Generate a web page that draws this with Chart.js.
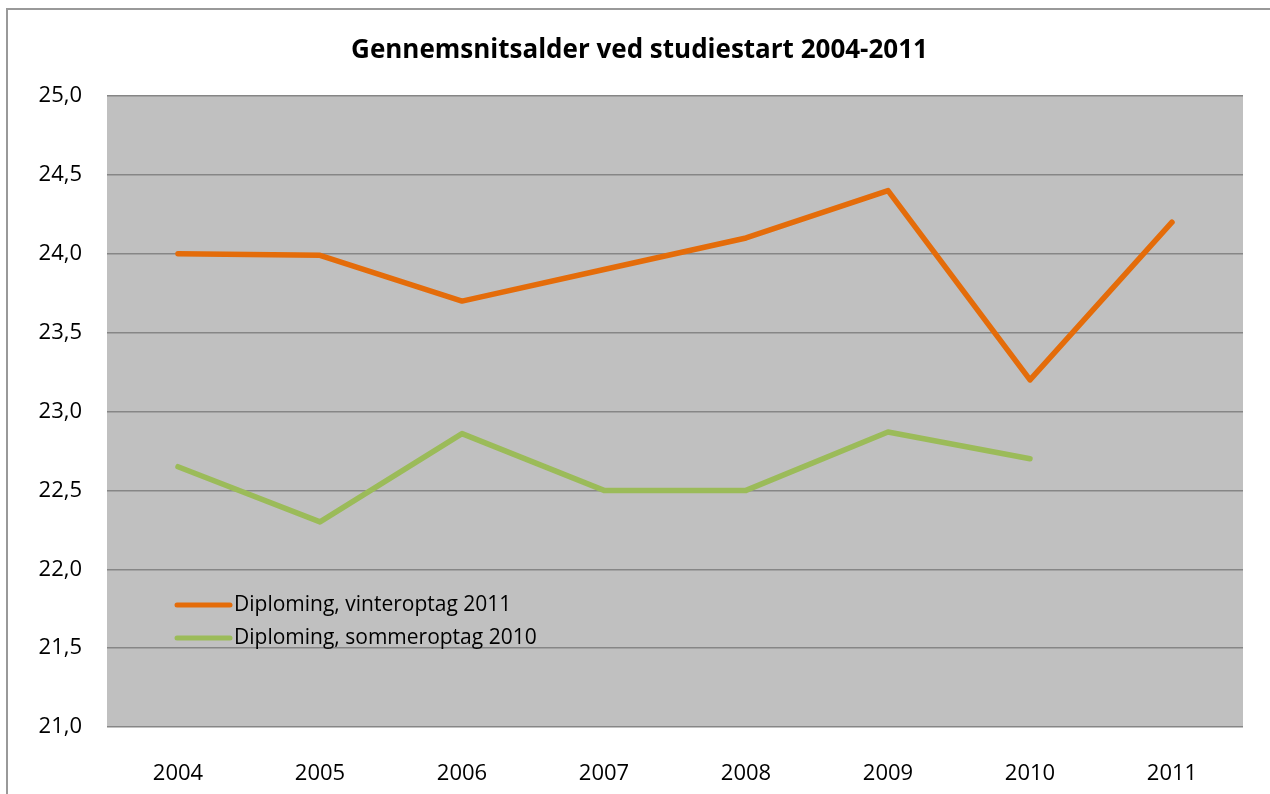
<!DOCTYPE html>
<html>
<head>
<meta charset="utf-8">
<script src="https://cdn.jsdelivr.net/npm/chart.js@4"></script>
<style>
  html, body { margin: 0; padding: 0; background: #fff; }
  #wrap { width: 1270px; height: 794px; }
</style>
</head>
<body>
<div id="wrap"><canvas id="chart" width="1270" height="794"></canvas></div>
<script>
var years = ['2004', '2005', '2006', '2007', '2008', '2009', '2010', '2011'];
var vinteroptag = [24.0, 23.99, 23.7, 23.9, 24.1, 24.4, 23.2, 24.2];
var sommeroptag = [22.65, 22.3, 22.86, 22.5, 22.5, 22.87, 22.7, null];
var seriesNames = ['Diploming, vinteroptag 2011', 'Diploming, sommeroptag 2010'];

var fontName = "'Open Sans', 'Noto Sans', sans-serif";

// grey plot background + outer frame
var bgPlugin = {
    id: 'bg',
    beforeDraw: function(chart) {
        var ctx = chart.ctx, a = chart.chartArea;
        ctx.save();
        ctx.strokeStyle = '#999';
        ctx.lineWidth = 2;
        ctx.strokeRect(7, 9, 1400, 900);
        ctx.fillStyle = '#c0c0c0';
        ctx.fillRect(a.left, a.top, a.right - a.left, a.bottom - a.top);
        ctx.restore();
    }
};

// legend drawn inside the plot area, lower left
var innerLegend = {
    id: 'innerLegend',
    afterDatasetsDraw: function(chart) {
        var ctx = chart.ctx;
        ctx.save();
        ctx.font = '21px ' + fontName;
        ctx.textBaseline = 'middle';
        chart.data.datasets.forEach(function(ds, i) {
            var y = 605 + i * 33;
            ctx.strokeStyle = ds.borderColor;
            ctx.lineWidth = 5;
            ctx.lineCap = 'round';
            ctx.beginPath();
            ctx.moveTo(177, y);
            ctx.lineTo(230, y);
            ctx.stroke();
            ctx.fillStyle = '#000';
            ctx.fillText(ds.label, 234, y);
        });
        ctx.restore();
    }
};

var ctx = document.getElementById('chart').getContext('2d');
var chart = new Chart(ctx, {
    type: 'line',
    data: {
        labels: years,
        datasets: [
            {label: seriesNames[0], data: vinteroptag, borderColor: '#e46c0a', borderWidth: 5.5,
             pointRadius: 0, tension: 0, borderJoinStyle: 'round', borderCapStyle: 'round'},
            {label: seriesNames[1], data: sommeroptag, borderColor: '#9bbb59', borderWidth: 5.5,
             pointRadius: 0, tension: 0, borderJoinStyle: 'round', borderCapStyle: 'round'}
        ]
    },
    options: {
        responsive: false,
        animation: false,
        layout: {padding: {left: 36, right: 27, top: 0, bottom: 0}},
        plugins: {
            legend: {display: false},
            tooltip: {enabled: false},
            title: {
                display: true,
                text: 'Gennemsnitsalder ved studiestart 2004-2011',
                color: '#000',
                font: {family: fontName, size: 26, weight: 'bold'},
                padding: {top: 35, bottom: 29.8}
            }
        },
        scales: {
            x: {
                offset: true,
                grid: {display: false},
                border: {display: false},
                ticks: {color: '#000', font: {family: fontName, size: 22}, padding: 26, maxRotation: 0},
                afterFit: function(s) { s.height = 67; }
            },
            y: {
                min: 21, max: 25,
                grid: {color: '#868686', lineWidth: 1.5, drawTicks: false},
                border: {display: false},
                ticks: {
                    stepSize: 0.5, color: '#000', padding: 25,
                    font: {family: fontName, size: 22},
                    callback: function(v) { return v.toFixed(1).replace('.', ','); }
                },
                afterFit: function(s) { s.width = 71; }
            }
        }
    },
    plugins: [bgPlugin, innerLegend]
});
</script>
</body>
</html>
